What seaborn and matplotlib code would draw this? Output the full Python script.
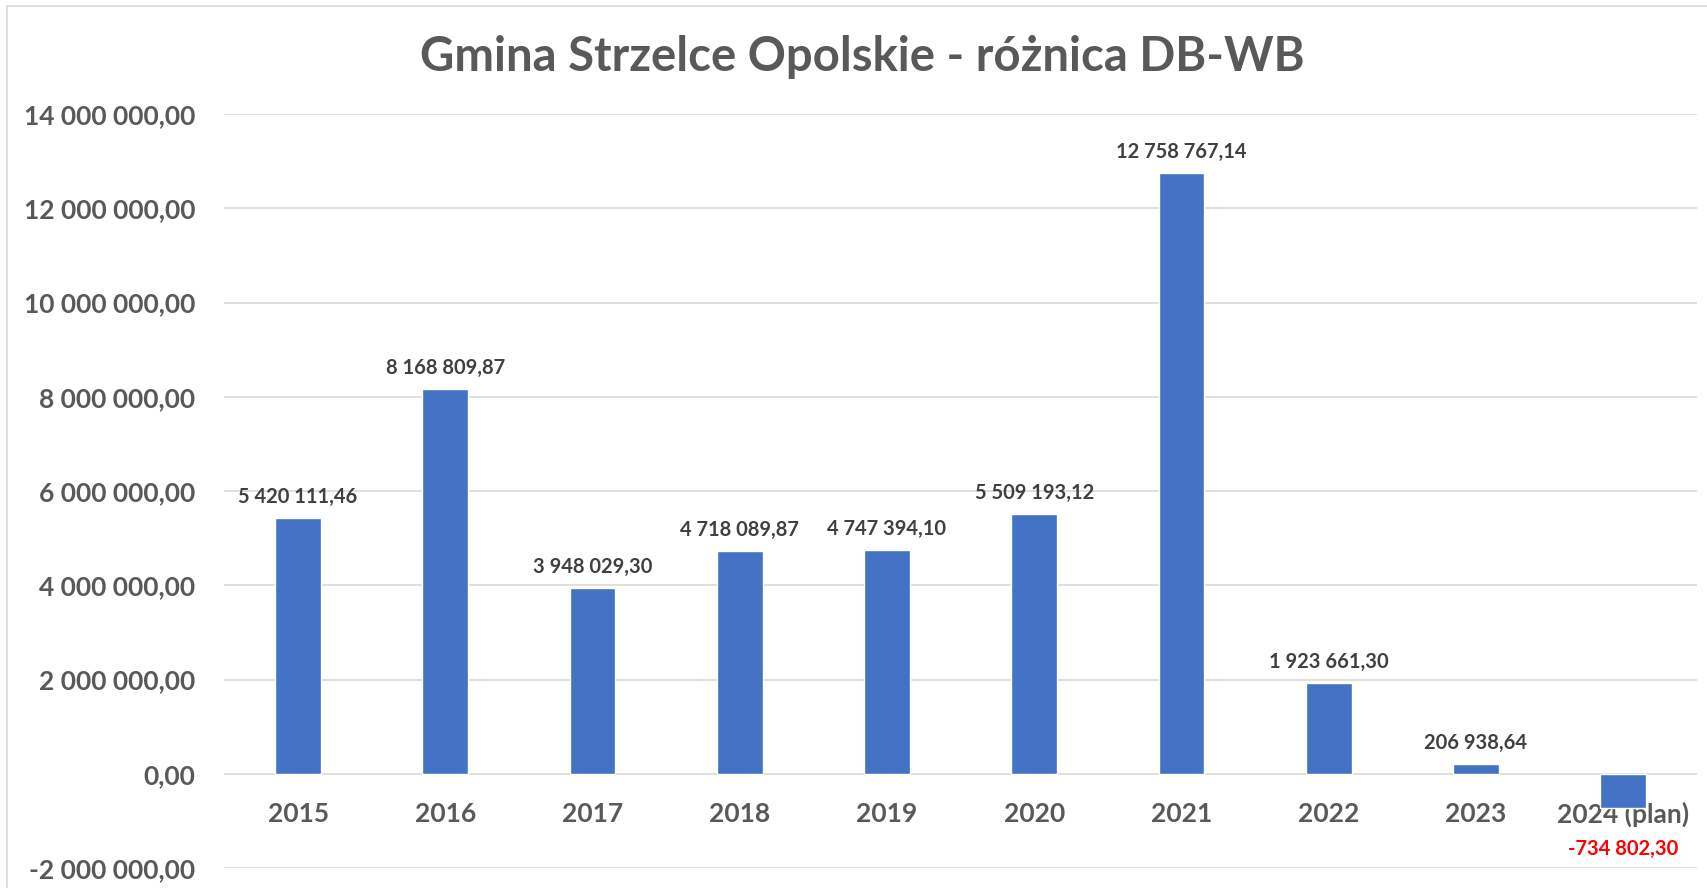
#!/usr/bin/env python3
import numpy as np
import pandas as pd
import matplotlib
matplotlib.use("Agg")
import matplotlib.pyplot as plt
import matplotlib.patches as mpatches
from matplotlib.ticker import FuncFormatter
import seaborn as sns

years = ['2015', '2016', '2017', '2018', '2019', '2020', '2021', '2022', '2023', '2024 (plan)']
values = [5420111.46, 8168809.87, 3948029.30, 4718089.87, 4747394.10,
          5509193.12, 12758767.14, 1923661.30, 206938.64, -734802.30]
title = 'Gmina Strzelce Opolskie - różnica DB-WB'


def pl_fmt(v):
    return f"{v:,.2f}".replace(",", " ").replace(".", ",")


def main():
    sns.set_theme(style="white")
    plt.rcParams['font.family'] = ['Lato', 'DejaVu Sans']

    df = pd.DataFrame({'rok': years, 'roznica': values})

    fig = plt.figure(figsize=(17.07, 8.88), dpi=100)
    ax = fig.add_axes([0.1315, 0.0225, 0.8625, 0.849])

    sns.barplot(data=df, x='rok', y='roznica', color='#4472C4', width=0.31,
                saturation=1, ax=ax)

    ax.set_ylim(-2000000, 14000000)
    ax.set_xlim(-0.5, len(years) - 0.5)
    ax.set_yticks(np.arange(-2000000, 14000001, 2000000))
    ax.yaxis.set_major_formatter(FuncFormatter(lambda v, p: pl_fmt(v)))
    ax.grid(axis='y', color='#D9D9D9', linewidth=1.2)
    ax.set_axisbelow(True)
    for s in ['top', 'right', 'left']:
        ax.spines[s].set_visible(False)
    ax.spines['bottom'].set_position(('data', 0))
    ax.spines['bottom'].set_visible(False)
    ax.tick_params(axis='both', length=0, labelsize=19, labelcolor='#595959')
    ax.tick_params(axis='y', pad=21)
    ax.tick_params(axis='x', pad=20)
    for lbl in ax.get_xticklabels() + ax.get_yticklabels():
        lbl.set_fontweight('bold')
    ax.set_xlabel('')
    ax.set_ylabel('')

    # data labels
    for bar, v in zip(ax.patches, values):
        cx = bar.get_x() + bar.get_width() / 2
        if v >= 0:
            ax.annotate(pl_fmt(v), (cx, v), xytext=(0, 8), textcoords='offset points',
                        ha='center', va='bottom', fontsize=14.5, fontweight='bold',
                        color='#404040')
        else:
            ax.annotate(pl_fmt(v), (cx, v), xytext=(0, -22), textcoords='offset points',
                        ha='center', va='top', fontsize=14.5, fontweight='bold',
                        color='#FF0000')

    fig.text(0.505, 0.936, title, ha='center', va='center', fontsize=34,
             fontweight='bold', color='#595959')

    # chart border
    fig.patches.append(mpatches.Rectangle((7 / 1707, -0.1), 1.1, 1 - 6 / 888 + 0.1,
                                          transform=fig.transFigure, fill=False,
                                          edgecolor='#D9D9D9', linewidth=1.2))

    fig.savefig('out.png', dpi=100)
    plt.close()


if __name__ == "__main__":
    main()
